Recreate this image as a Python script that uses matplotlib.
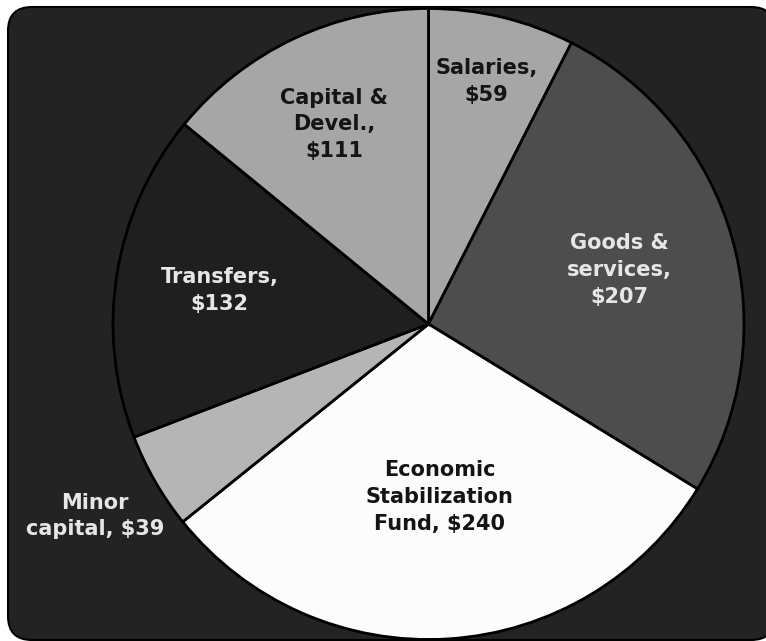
import matplotlib
matplotlib.use("Agg")
import matplotlib.pyplot as plt
from matplotlib.patches import FancyBboxPatch
import numpy as np

categories = ["Salaries", "Goods & services", "Economic Stabilization Fund",
              "Minor capital", "Transfers", "Capital & Devel."]
values = [59, 207, 240, 39, 132, 111]
labels = ["Salaries,\n$59", "Goods &\nservices,\n$207", "Economic\nStabilization\nFund, $240",
          "Minor\ncapital, $39", "Transfers,\n$132", "Capital &\nDevel.,\n$111"]

# styles
colors = ["#a6a6a6", "#4d4d4d", "#fcfcfc", "#b5b5b5", "#1f1f1f", "#a6a6a6"]
text_colors = ["#141414", "#e6e6e6", "#141414", "#e6e6e6", "#e6e6e6", "#141414"]
label_r = [0.79, 0.63, 0.55, 1.22, 0.67, 0.70]

W, H = 766, 641
fig = plt.figure(figsize=(W / 100, H / 100), dpi=100)
fig.patch.set_facecolor("white")

# rounded dark panel in a background axes
bg = fig.add_axes([0, 0, 1, 1], zorder=0)
bg.set_xlim(0, W)
bg.set_ylim(H, 0)
bg.axis("off")
bx0, by0, bx1, by1 = 8, 7, 775, 640  # pixel coords from top-left
box = FancyBboxPatch((bx0, by0), bx1 - bx0, by1 - by0,
                     boxstyle="round,pad=0,rounding_size=24",
                     facecolor="#232323", edgecolor="black", linewidth=1.5)
bg.add_patch(box)

cx, cy, R = 428.5, 324, 315.5
ax = fig.add_axes([(cx - R) / W, (H - cy - R) / H, 2 * R / W, 2 * R / H], zorder=1)
ax.set_facecolor("none")
wedges, _ = ax.pie(values, colors=colors, startangle=90, counterclock=False,
                   wedgeprops=dict(edgecolor="black", linewidth=2))
ax.set_xlim(-1, 1)
ax.set_ylim(-1, 1)
ax.set_aspect("equal")
ax.axis("off")

for w, lab, tc, r in zip(wedges, labels, text_colors, label_r):
    mid = np.deg2rad((w.theta1 + w.theta2) / 2)
    ax.text(r * np.cos(mid), r * np.sin(mid), lab, ha="center", va="center",
            color=tc, fontsize=15, fontweight="bold", family="DejaVu Sans",
            linespacing=1.42, clip_on=False)

fig.savefig("out.png", dpi=100, facecolor="white")
